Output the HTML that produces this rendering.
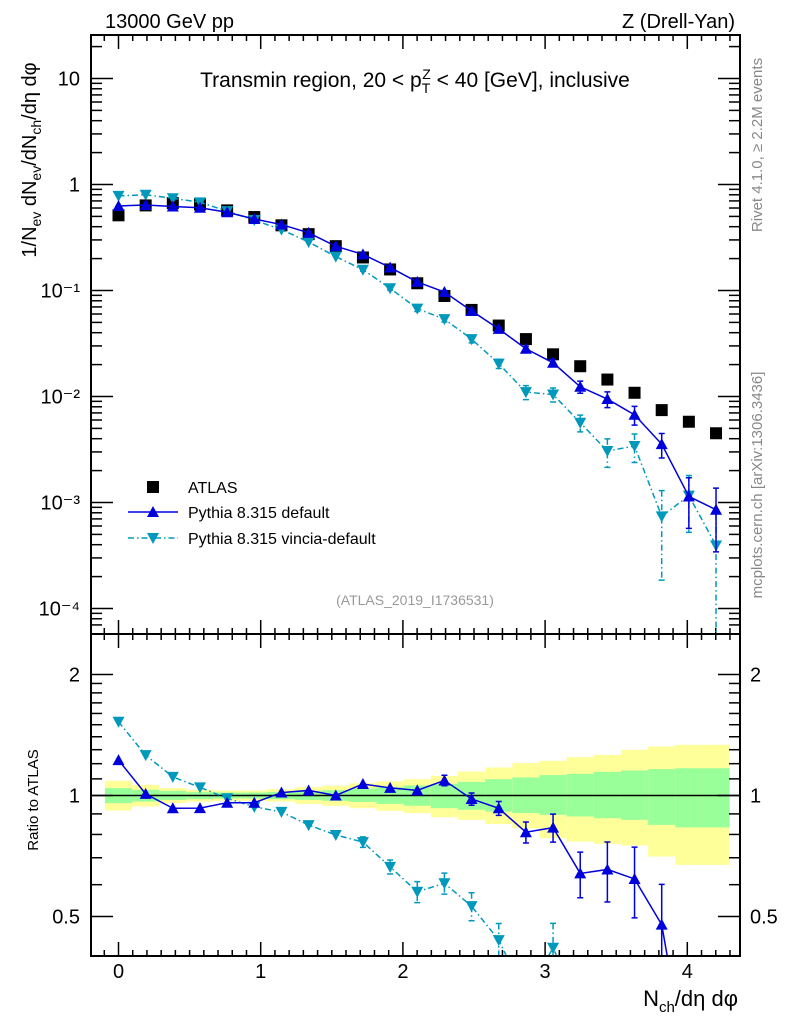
<!DOCTYPE html>
<html><head><meta charset="utf-8">
<style>
html,body{margin:0;padding:0;background:#fff;overflow:hidden;width:786px;height:1024px;}
svg{display:block;}
svg text{font-family:"Liberation Sans",sans-serif;}
</style></head>
<body>
<svg id="chart" width="786" height="1024" viewBox="0 0 786 1024" xmlns="http://www.w3.org/2000/svg">
<rect x="0" y="0" width="786" height="1024" fill="#fff"/>
<g id="bands"></g>
<g id="ticks"></g>
<g id="series"></g>
<rect x="91" y="35" width="649" height="599" fill="none" stroke="#000" stroke-width="2"/>
<rect x="91" y="634" width="649" height="322" fill="none" stroke="#000" stroke-width="2"/>
<text x="105" y="28" font-size="20">13000 GeV pp</text>
<text x="735" y="28" font-size="20" text-anchor="end">Z (Drell-Yan)</text>
<text x="415" y="87" font-size="21" text-anchor="middle">Transmin region, 20 &lt; p<tspan font-size="14" dy="6">T</tspan><tspan font-size="14" dx="-8" dy="-14">Z</tspan><tspan dy="8"> &lt; 40 [GeV], inclusive</tspan></text>
<text x="415" y="605" font-size="14" fill="#999" text-anchor="middle">(ATLAS_2019_I1736531)</text>
<text transform="translate(762,145) rotate(-90)" font-size="15" fill="#888" text-anchor="middle">Rivet 4.1.0, ≥ 2.2M events</text>
<text transform="translate(762,485) rotate(-90)" font-size="15" fill="#888" text-anchor="middle">mcplots.cern.ch [arXiv:1306.3436]</text>
<text transform="translate(36,160) rotate(-90)" font-size="20" text-anchor="middle">1/N<tspan font-size="14" dy="5">ev</tspan><tspan dy="-5"> dN</tspan><tspan font-size="14" dy="5">ev</tspan><tspan dy="-5">/dN</tspan><tspan font-size="14" dy="5">ch</tspan><tspan dy="-5">/dη dφ</tspan></text>
<text transform="translate(38,800) rotate(-90)" font-size="15" text-anchor="middle">Ratio to ATLAS</text>
<text x="738" y="1006" font-size="22" text-anchor="end">N<tspan font-size="15" dy="6">ch</tspan><tspan dy="-6">/dη dφ</tspan></text>
<g>
<rect x="147" y="481" width="12" height="12" fill="#000"/>
<text x="188" y="493" font-size="16">ATLAS</text>
<line x1="128" y1="512" x2="178" y2="512" stroke="#0000dd" stroke-width="1.5"/>
<path d="M153,506 L159,517 L147,517 Z" fill="#0000dd"/>
<text x="188" y="518" font-size="16">Pythia 8.315 default</text>
<line x1="128" y1="538" x2="178" y2="538" stroke="#0099bb" stroke-width="1.5" stroke-dasharray="6,3,1.5,3"/>
<path d="M147,533 L159,533 L153,544 Z" fill="#0099bb"/>
<text x="188" y="544" font-size="16">Pythia 8.315 vincia-default</text>
</g>
</svg>
<script>
const xVals=[0,0.191,0.382,0.573,0.764,0.955,1.146,1.337,1.528,1.719,1.91,2.101,2.292,2.483,2.674,2.865,3.056,3.247,3.438,3.629,3.82,4.011,4.202];
const atlasVals=[0.512,0.635,0.667,0.648,0.570,0.493,0.412,0.340,0.262,0.205,0.158,0.117,0.0888,0.0656,0.0467,0.0348,0.0250,0.0193,0.01445,0.01084,0.00744,0.00578,0.00450];
const defaultVals=[0.627,0.641,0.620,0.603,0.547,0.473,0.419,0.350,0.262,0.219,0.165,0.1205,0.0968,0.0643,0.0434,0.0282,0.0208,0.01235,0.00946,0.00672,0.00355,0.00114,0.000855];
const defaultErr=[0.005,0.005,0.005,0.005,0.006,0.008,0.01,0.012,0.014,0.016,0.018,0.02,0.03,0.035,0.04,0.06,0.08,0.13,0.17,0.2,0.26,0.5,0.6];
const vinciaVals=[0.781,0.800,0.742,0.679,0.561,0.462,0.375,0.287,0.209,0.157,0.105,0.0674,0.0537,0.0348,0.0204,0.011,0.01045,0.00566,0.00306,0.00341,0.00074,0.00116,0.000393];
const vinciaErr=[0.005,0.005,0.006,0.006,0.008,0.01,0.012,0.015,0.02,0.03,0.04,0.06,0.06,0.08,0.1,0.15,0.15,0.18,0.3,0.3,0.75,0.55,1.0];
const yellowUp=[1.088,1.063,1.043,1.033,1.029,1.029,1.037,1.049,1.057,1.073,1.084,1.098,1.119,1.147,1.174,1.204,1.220,1.246,1.262,1.299,1.324,1.337,1.337];
const yellowDn=[0.918,0.939,0.957,0.966,0.970,0.970,0.966,0.953,0.943,0.930,0.916,0.904,0.883,0.870,0.849,0.829,0.783,0.768,0.758,0.751,0.705,0.672,0.672];
const greenUp=[1.043,1.033,1.027,1.019,1.017,1.017,1.021,1.025,1.031,1.041,1.049,1.059,1.069,1.081,1.098,1.109,1.124,1.132,1.145,1.154,1.163,1.169,1.169];
const greenDn=[0.957,0.966,0.975,0.979,0.983,0.983,0.979,0.975,0.970,0.964,0.953,0.943,0.930,0.921,0.912,0.904,0.895,0.887,0.878,0.870,0.845,0.833,0.833];
const topLabels=["10","1","10⁻¹","10⁻²","10⁻³","10⁻⁴"];
const xTickLabels=["0","1","2","3","4"];

const NS="http://www.w3.org/2000/svg";
const L=91,R=740,T=35,MB=634,RB=956;
const X=v=>118.5+v*142.2;
const Y=v=>290.5-(Math.log10(v)+1)*106;
const RY=r=>795.5-Math.log2(r)*121;
const clampT=y=>Math.min(Math.max(y,T),MB);
const clampR=y=>Math.min(Math.max(y,MB),RB);
function mk(tag,attrs,parent){const e=document.createElementNS(NS,tag);for(const k in attrs)e.setAttribute(k,attrs[k]);parent.appendChild(e);return e;}
// build path from points, clipping each segment to [y0,y1]
function clipPath(pts,y0,y1){
 let d='';let pen=false;
 for(let i=0;i<pts.length-1;i++){
  let [xa,ya]=pts[i],[xb,yb]=pts[i+1];
  let t0=0,t1=1;const dy=yb-ya;
  if(dy===0){if(ya<y0||ya>y1){pen=false;continue;}}
  else{
   let ta=(y0-ya)/dy,tb=(y1-ya)/dy;if(ta>tb){const s=ta;ta=tb;tb=s;}
   t0=Math.max(t0,ta);t1=Math.min(t1,tb);if(t0>t1){pen=false;continue;}
  }
  const sx=xa+(xb-xa)*t0,sy=ya+dy*t0,ex=xa+(xb-xa)*t1,ey=ya+dy*t1;
  if(!pen||t0>0)d+='M'+sx+','+sy;
  d+='L'+ex+','+ey;pen=(t1===1);
 }
 return d;
}
const gB=document.getElementById('bands'),gT=document.getElementById('ticks'),gS=document.getElementById('series');
const hw=0.0955;
for(let i=0;i<xVals.length;i++){
 const x0=X(xVals[i]-hw),x1=X(xVals[i]+hw);
 let e=mk('rect',{x:x0,y:RY(yellowUp[i]),width:x1-x0,height:RY(yellowDn[i])-RY(yellowUp[i]),fill:'#ffff99'},gB);
 
 
 e=mk('rect',{x:x0,y:RY(greenUp[i]),width:x1-x0,height:RY(greenDn[i])-RY(greenUp[i]),fill:'#99ff99'},gB);
 
 
}
let ln=mk('line',{x1:L,x2:R,y1:RY(1),y2:RY(1),stroke:'#000','stroke-width':1.5},gB);


for(let v=-0.1;v<=4.35;v+=0.1){
 const vv=Math.round(v*10)/10,x=X(vv),maj=Math.abs(vv-Math.round(vv))<1e-6;
 const len=maj?14:6;
 let t=mk('line',{x1:x,x2:x,y1:T,y2:T+len,stroke:'#000','stroke-width':1.5},gT);
 
 
 t=mk('line',{x1:x,x2:x,y1:MB-len,y2:MB+len,stroke:'#000','stroke-width':1.5},gT);
 
 
 t=mk('line',{x1:x,x2:x,y1:RB-len,y2:RB,stroke:'#000','stroke-width':1.5},gT);
 
 
}
xTickLabels.forEach((s,i)=>{const t=mk('text',{x:X(i),y:978,'font-size':20,'text-anchor':'middle'},gT);t.textContent=s;
 
 });
for(let d=-5;d<=1;d++){for(let m=1;m<=9;m++){const v=m*Math.pow(10,d),y=Y(v);if(y<T+2||y>MB-2)continue;
 const len=m==1?22:11;
 let t=mk('line',{x1:L,x2:L+len,y1:y,y2:y,stroke:'#000','stroke-width':1.5},gT);
 
 
 t=mk('line',{x1:R-len,x2:R,y1:y,y2:y,stroke:'#000','stroke-width':1.5},gT);
 
 }}
topLabels.forEach((s,i)=>{const v=Math.pow(10,1-i);
 const t=mk('text',{x:80,y:Y(v)+7,'font-size':20,'text-anchor':'end'},gT);t.textContent=s;
 
 });
[0.4,0.5,0.6,0.7,0.8,0.9,1,1.1,1.2,1.3,1.4,1.5,1.6,1.7,1.8,1.9,2].forEach(r=>{const y=RY(r);if(y<MB+2||y>RB-2)return;
 const len=(r==0.5||r==1||r==2)?22:11;
 let t=mk('line',{x1:L,x2:L+len,y1:y,y2:y,stroke:'#000','stroke-width':1.5},gT);
 
 
 t=mk('line',{x1:R-len,x2:R,y1:y,y2:y,stroke:'#000','stroke-width':1.5},gT);
 
 });
[["2",2],["1",1],["0.5",0.5]].forEach(p=>{
 let t=mk('text',{x:80,y:RY(p[1])+7,'font-size':20,'text-anchor':'end'},gT);t.textContent=p[0];
 
 
 t=mk('text',{x:750,y:RY(p[1])+7,'font-size':20},gT);t.textContent=p[0];
 
 });
function drawSeries(vals,errs,color,dash,up,name){
 const ptsM=vals.map((v,i)=>[X(xVals[i]),Y(v)]);
 let p=mk('path',{d:clipPath(ptsM,T,MB),fill:'none',stroke:color,'stroke-width':1.5,'stroke-dasharray':dash},gS);
 
 
 const ptsR=vals.map((v,i)=>[X(xVals[i]),RY(v/atlasVals[i])]);
 p=mk('path',{d:clipPath(ptsR,MB,RB),fill:'none',stroke:color,'stroke-width':1.5,'stroke-dasharray':dash},gS);
 
 
 vals.forEach((v,i)=>{
  const x=X(xVals[i]),e=errs[i];
  const hi=v*(1+e),lo=v*(1-e);
  const yh=Y(hi),yl=lo>0?Y(lo):MB;
  if(e>0.02){let b=mk('path',{d:`M${x},${clampT(yh)}L${x},${clampT(yl)}M${x-3},${clampT(yh)}L${x+3},${clampT(yh)}M${x-3},${clampT(yl)}L${x+3},${clampT(yl)}`,stroke:color,'stroke-width':1.5,'stroke-dasharray':dash},gS);
   
   }
  const r=v/atlasVals[i],ry=RY(r),rh=RY(r*(1+e)),rl=(1-e)>0?RY(r*(1-e)):RB;
  if(e>0.02&&ry<RB+4&&rh<RB){let b=mk('path',{d:`M${x},${clampR(rh)}L${x},${clampR(rl)}M${x-3},${clampR(rh)}L${x+3},${clampR(rh)}M${x-3},${clampR(rl)}L${x+3},${clampR(rl)}`,stroke:color,'stroke-width':1.5,'stroke-dasharray':dash},gS);
   
   }
  const y=Y(v);
  const tri=(cy)=>up?`M${x},${cy-6}L${x+6},${cy+5}L${x-6},${cy+5}Z`:`M${x-6},${cy-5}L${x+6},${cy-5}L${x},${cy+6}Z`;
  if(y>T&&y<MB){let m=mk('path',{d:tri(y),fill:color},gS);
   
   }
  if(ry>MB&&ry<RB+4){let m=mk('path',{d:tri(Math.min(ry,RB-3)),fill:color},gS);
   
   }
 });
}
atlasVals.forEach((v,i)=>{const x=X(xVals[i]),y=Y(v);
 const m=mk('rect',{x:x-6,y:y-6,width:12,height:12,fill:'#000'},gS);
 
 });
drawSeries(vinciaVals,vinciaErr,'#0099bb','6,3,1.5,3',false,'vincia');
drawSeries(defaultVals,defaultErr,'#0000dd','',true,'default');
</script>
</body></html>
